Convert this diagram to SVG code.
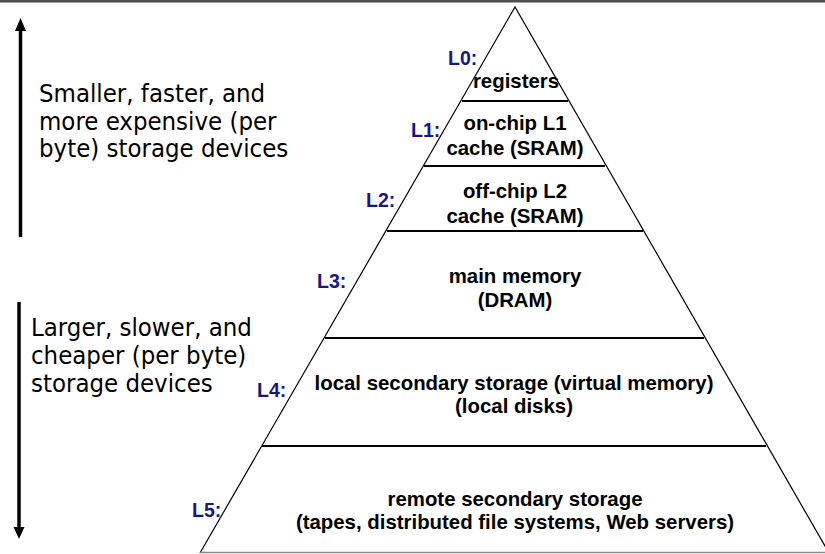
<svg xmlns="http://www.w3.org/2000/svg" width="825" height="554" viewBox="0 0 825 554">
  <style>
    .tier { font-family: "Liberation Sans", Arial, sans-serif; font-weight: bold; font-size: 20.4px; fill: #000; text-anchor: middle; }
    .lvl { font-family: "Liberation Sans", Arial, sans-serif; font-weight: bold; font-size: 19.5px; fill: #16168c; }
    .side { font-family: "DejaVu Sans Condensed", "DejaVu Sans", sans-serif; font-size: 25.5px; fill: #000; }
    .edge { stroke: #000; stroke-width: 1.2; fill: none; }
    .sep { stroke: #000; stroke-width: 2.2; }
    .axis { stroke: #000; stroke-width: 3.5; }
  </style>

  <rect width="825" height="554" fill="#fff"/>
  <!-- header rule -->
  <rect x="0" y="0" width="825" height="2.5" fill="#4d4d4d"/>

  <!-- side arrows -->
  <g id="arrow-up">
    <line class="axis" x1="20.5" y1="30" x2="20.5" y2="237"/>
    <polygon points="20.5,18 15,31 26,31" fill="#000"/>
  </g>
  <g id="arrow-down">
    <line class="axis" x1="19" y1="302" x2="19" y2="528"/>
    <polygon points="19,539 13.5,527 24.5,527" fill="#000"/>
  </g>

  <g id="caption-top">
    <text class="side" x="39" y="102">Smaller, faster, and</text>
    <text class="side" x="39" y="129.5">more expensive (per</text>
    <text class="side" x="39" y="157">byte) storage devices</text>
  </g>
  <g id="caption-bottom">
    <text class="side" x="31" y="336">Larger, slower, and</text>
    <text class="side" x="31" y="364">cheaper (per byte)</text>
    <text class="side" x="31" y="392">storage devices</text>
  </g>

  <!-- pyramid outline and tier separators -->
  <g id="connectors">
    <polyline class="edge" points="200,553 515,7 829,553"/>
    <line x1="200" y1="552.5" x2="825" y2="552.5" stroke="#8a8a8a" stroke-width="1.5"/>
    <line class="sep" x1="462" y1="101" x2="568" y2="101"/>
    <line class="sep" x1="424" y1="166" x2="605" y2="166"/>
    <line class="sep" x1="387" y1="231" x2="643" y2="231"/>
    <line class="sep" x1="325" y1="338" x2="704" y2="338"/>
    <line class="sep" x1="262" y1="446" x2="766" y2="446"/>
  </g>

  <g id="L0">
    <text class="lvl" x="448" y="65">L0:</text>
    <text class="tier" x="516" y="88">registers</text>
  </g>
  <g id="L1">
    <text class="lvl" x="411" y="137">L1:</text>
    <text class="tier" x="515" y="130">on-chip L1</text>
    <text class="tier" x="515" y="155">cache (SRAM)</text>
  </g>
  <g id="L2">
    <text class="lvl" x="366" y="207">L2:</text>
    <text class="tier" x="515" y="198">off-chip L2</text>
    <text class="tier" x="515" y="223">cache (SRAM)</text>
  </g>
  <g id="L3">
    <text class="lvl" x="317" y="288">L3:</text>
    <text class="tier" x="515" y="283">main memory</text>
    <text class="tier" x="515" y="307">(DRAM)</text>
  </g>
  <g id="L4">
    <text class="lvl" x="257" y="397">L4:</text>
    <text class="tier" x="514" y="390">local secondary storage (virtual memory)</text>
    <text class="tier" x="514" y="413">(local disks)</text>
  </g>
  <g id="L5">
    <text class="lvl" x="192" y="517">L5:</text>
    <text class="tier" x="515" y="506">remote secondary storage</text>
    <text class="tier" x="515" y="529">(tapes, distributed file systems, Web servers)</text>
  </g>
</svg>
